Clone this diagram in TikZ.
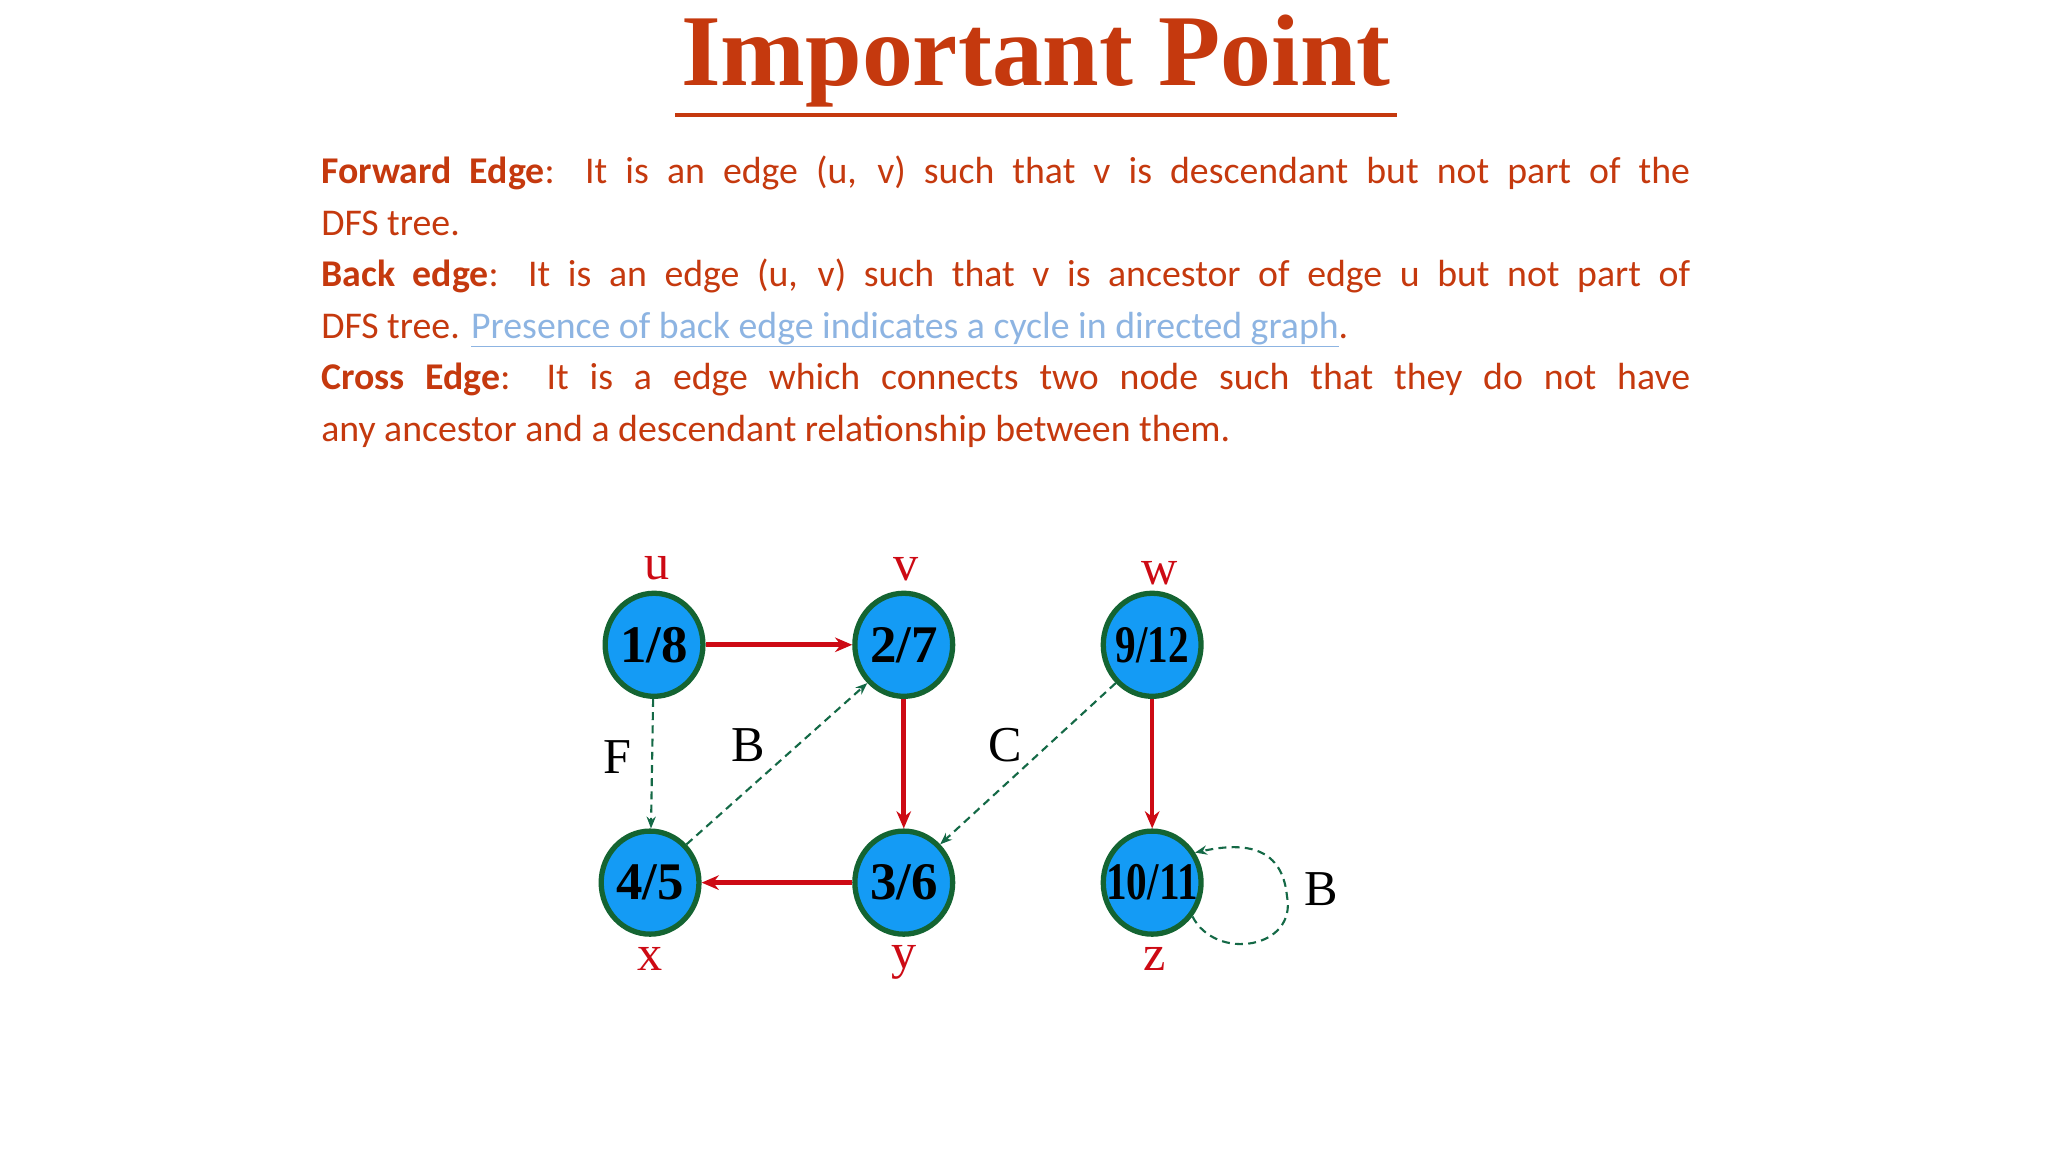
\documentclass[tikz,border=0pt]{standalone}
\usepackage{fontspec}
\usepackage{graphicx}
\setmainfont{Liberation Serif}
\newfontfamily\bodyfont{Carlito}
\usetikzlibrary{arrows.meta,shapes.geometric}
\definecolor{txtred}{RGB}{197,57,14}
\definecolor{linkblue}{RGB}{141,180,226}
\definecolor{nodeblue}{RGB}{20,155,245}
\definecolor{nodegreen}{RGB}{20,100,50}
\definecolor{edgered}{RGB}{205,10,20}
\definecolor{dashgreen}{RGB}{20,105,70}
\tikzset{
  vert/.style={ellipse, draw=nodegreen, line width=4pt, fill=nodeblue, minimum width=74pt, minimum height=78pt, inner sep=0pt, font=\fontsize{40}{40}\selectfont\bfseries},
  vlabel/.style={text=edgered, font=\fontsize{38}{38}\selectfont},
  elabel/.style={text=black, font=\fontsize{38}{38}\selectfont},
  tree/.style={draw=edgered, line width=3.5pt, -{Stealth[length=13pt,width=11pt]}},
  other/.style={draw=dashgreen, line width=1.6pt, dash pattern=on 6pt off 4pt, -{Stealth[length=9pt,width=7pt]}}
}
\newcommand{\squeeze}[1]{\makebox[0pt]{\scalebox{0.78}[1]{#1}}}
\begin{document}
\begin{tikzpicture}[x=1pt,y=-1pt]
\useasboundingbox (0,0) rectangle (1550,872);
\fill[white] (0,0) rectangle (1550,872);
\node[text=txtred, font=\fontsize{77}{77}\selectfont\bfseries] (title) at (784,46) {Important Point};
\draw[txtred, line width=2.5pt] (511,87) -- (1057,87);
\node[anchor=north west, inner sep=0pt, text=txtred, text width=1036pt, align=justify,
  font=\bodyfont\fontsize{28.6}{39}\selectfont] (body) at (243,118) {%
\textbf{Forward Edge}: It is an edge (u, v) such that v is descendant but not part of the\linebreak
DFS tree.\\
\textbf{Back edge}: It is an edge (u, v) such that v is ancestor of edge u but not part of\linebreak
DFS tree. {\color{linkblue}$\underline{\hbox{Presence of back edge indicates a cycle in directed graph}}$}.\\
\textbf{Cross Edge}: It is a edge which connects two node such that they do not have\linebreak
any ancestor and a descendant relationship between them.\par};
\node[vert] (u) at (495,488) {1/8};
\node[vert] (v) at (684,488) {2/7};
\node[vert] (w) at (872,488) {\squeeze{9/12}};
\node[vert] (x) at (492,668) {4/5};
\node[vert] (y) at (684,668) {3/6};
\node[vert] (z) at (872,668) {\squeeze{10/11}};
\node[vlabel] (lu) at (497,430) {u};
\node[vlabel] (lv) at (686,431) {v};
\node[vlabel] (lw) at (878,434) {w};
\node[vlabel] (lx) at (492,726) {x};
\node[vlabel] (ly) at (684,728) {y};
\node[vlabel] (lz) at (874,726) {z};
\draw[tree] (u) -- (v);
\draw[tree] (v) -- (y);
\draw[tree] (y) -- (x);
\draw[tree] (w) -- (z);
\draw[other] (u) -- (x);
\draw[other] (x.north east) -- (v.south west);
\draw[other] (w.south west) -- (y.north east);
\coordinate (loopr) at (974,678);
\draw[other] (z.-40) .. controls (920,728) and (982,718) .. (loopr) .. controls (970,638) and (938,638) .. (z.35);
\node[elabel] (F) at (467,573) {F};
\node[elabel] (B1) at (566,564) {B};
\node[elabel] (C) at (761,564) {C};
\node[elabel] (B2) at (1000,673) {B};
\end{tikzpicture}
\end{document}
